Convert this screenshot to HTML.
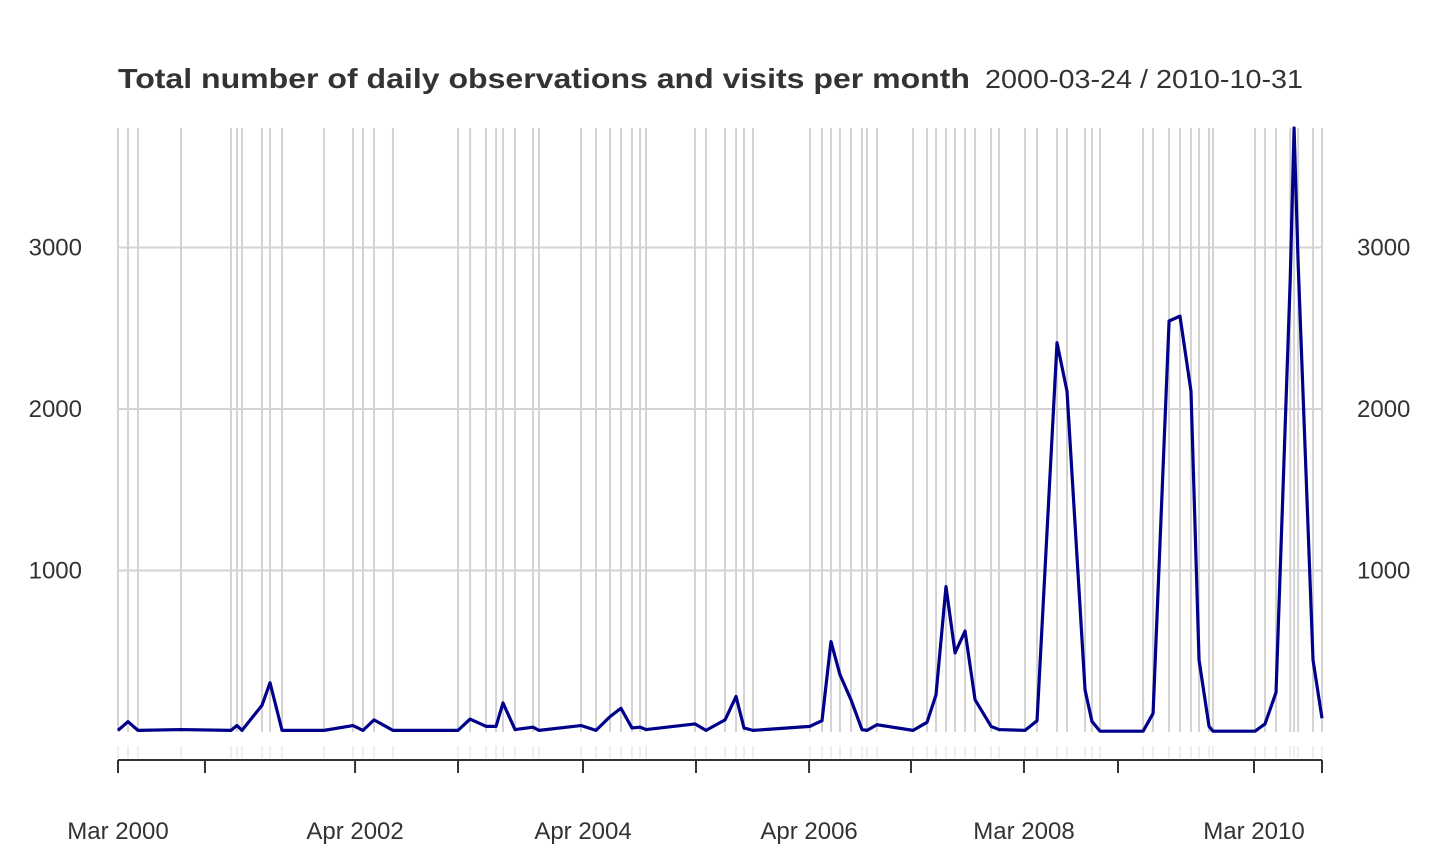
<!DOCTYPE html>
<html><head><meta charset="utf-8"><style>
html,body{margin:0;padding:0;background:#fff;}
svg{display:block;font-family:"Liberation Sans",Arial,sans-serif;}
</style></head><body>
<svg id="chart" width="1440" height="864" viewBox="0 0 1440 864">
<text x="118" y="88" font-size="28" font-weight="bold" fill="#333" textLength="852" lengthAdjust="spacingAndGlyphs">Total number of daily observations and visits per month</text>
<text x="985" y="88" font-size="26" fill="#333" textLength="318" lengthAdjust="spacingAndGlyphs">2000-03-24 / 2010-10-31</text>
<g id="grid"></g><g id="axes"></g><g id="series"></g>
</svg>
<script>
const dates=[2000.225,2000.313,2000.401,2000.780,2001.220,2001.273,2001.317,2001.493,2001.564,2001.670,2002.040,2002.295,2002.383,2002.480,2002.647,2003.220,2003.326,2003.466,2003.555,2003.616,2003.722,2003.880,2003.933,2004.303,2004.435,2004.559,2004.655,2004.752,2004.823,2004.876,2005.307,2005.404,2005.572,2005.669,2005.739,2005.818,2006.320,2006.426,2006.505,2006.584,2006.681,2006.778,2006.822,2006.910,2007.228,2007.351,2007.430,2007.518,2007.598,2007.686,2007.774,2007.915,2007.985,2008.214,2008.320,2008.496,2008.584,2008.743,2008.804,2008.875,2009.254,2009.342,2009.483,2009.579,2009.676,2009.747,2009.835,2009.870,2010.240,2010.328,2010.425,2010.550,2010.584,2010.620,2010.751,2010.830];
const counts=[10,64,10,15,10,40,10,165,305,10,10,40,10,75,10,10,80,35,35,180,15,30,10,40,10,95,147,25,30,15,50,10,75,220,25,10,35,70,560,355,200,15,10,45,10,60,230,900,490,625,200,35,15,10,70,2410,2110,260,65,5,5,115,2545,2575,2110,445,35,5,5,50,245,2800,3740,2900,445,85];
const yTicks=[1000,2000,3000];
const xTickDates=[2000.225,2000.991,2002.313,2003.220,2004.321,2005.316,2006.312,2007.210,2008.205,2009.033,2010.231,2010.830];
const xLabelDates=[2000.225,2002.313,2004.321,2006.312,2008.205,2010.231];
const xLabels=["Mar 2000","Apr 2002","Apr 2004","Apr 2006","Mar 2008","Mar 2010"];
const X0=118,X1=1322,T0=2000.225,T1=2010.830;
const x=t=>X0+(t-T0)/(T1-T0)*(X1-X0);
const y=v=>732-v*0.1615;
const NS="http://www.w3.org/2000/svg";
function mk(tag,parent,attrs){const e=document.createElementNS(NS,tag);for(const k in attrs)e.setAttribute(k,attrs[k]);parent.appendChild(e);return e;}
const grid=document.getElementById('grid'),axes=document.getElementById('axes'),series=document.getElementById('series');
dates.forEach(d=>{
 const g=mk('line',grid,{x1:x(d),x2:x(d),y1:128,y2:732,stroke:'#d3d3d3','stroke-width':2});
 
 
 const t=mk('line',grid,{x1:x(d),x2:x(d),y1:746,y2:758,stroke:'#eeeeee','stroke-width':2});
 
 
});
yTicks.forEach(v=>{
 const g=mk('line',grid,{x1:X0,x2:X1,y1:y(v),y2:y(v),stroke:'#d3d3d3','stroke-width':2});
 
 
 const l=mk('text',axes,{x:82,y:y(v)+8,'font-size':24,fill:'#333','text-anchor':'end'});l.textContent=v;
 
 
 const r=mk('text',axes,{x:1357,y:y(v)+8,'font-size':24,fill:'#333'});r.textContent=v;
 
 
});
const ax=mk('line',axes,{x1:X0,x2:X1,y1:760,y2:760,stroke:'#333','stroke-width':2});


xTickDates.forEach(d=>{
 const t=mk('line',axes,{x1:x(d),x2:x(d),y1:760,y2:773,stroke:'#333','stroke-width':2});
 
 
});
xLabelDates.forEach((d,i)=>{
 const l=mk('text',axes,{x:x(d),y:839,'font-size':24,fill:'#333','text-anchor':'middle'});l.textContent=xLabels[i];
 
 
});
const p=mk('polyline',series,{points:dates.map((d,i)=>x(d)+','+y(counts[i])).join(' '),fill:'none',stroke:'#00008B','stroke-width':3.2,'stroke-linejoin':'round'});


</script>
</body></html>
